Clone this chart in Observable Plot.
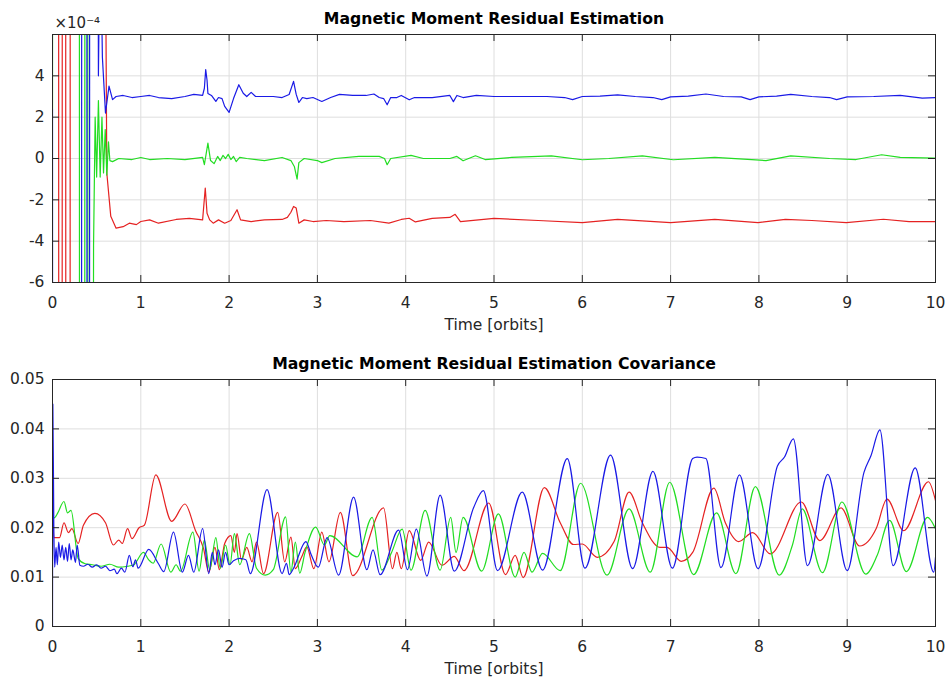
<!DOCTYPE html>
<html><head><meta charset="utf-8">
<script src="https://cdn.jsdelivr.net/npm/d3@7"></script>
<script src="https://cdn.jsdelivr.net/npm/@observablehq/plot@0.6"></script>
<style>
body{margin:0;background:#fff;}
#wrap{position:relative;width:946px;height:681px;background:#fff;}
#top,#bottom{position:absolute;left:0;}
#top{top:0;}
#bottom{top:345px;}
</style></head><body>
<div id="wrap"><div id="top"></div><div id="bottom"></div></div>
<script>
// ---------- tick labels / text ----------
const xTicks = [0,1,2,3,4,5,6,7,8,9,10];
const topYTicks = [-6,-4,-2,0,2,4];
const botYTicks = [0,0.01,0.02,0.03,0.04,0.05];
const topTitle = "Magnetic Moment Residual Estimation";
const botTitle = "Magnetic Moment Residual Estimation Covariance";
const xLabel = "Time [orbits]";
const expLabel = "×10⁻⁴";

// ---------- top panel series: [time (orbits), value (×1e-4)] ----------
const topRed = [[0,40],[0.068,40],[0.072,-40],[0.108,-40],[0.112,40],[0.148,40],[0.152,-40],[0.198,-40],[0.202,40],
 [0.56,40],[0.615,-0.7],[0.66,-2.8],[0.72,-3.37],[0.8,-3.3],[0.87,-3.13],[0.95,-3.2],[1.0,-3.05],[1.1,-2.97],[1.2,-3.13],
 [1.4,-2.95],[1.55,-2.9],[1.7,-2.97],[1.73,-1.43],[1.75,-2.65],[1.78,-2.97],[1.82,-3.13],[1.88,-2.97],[1.95,-3.13],
 [2.02,-3.0],[2.09,-2.48],[2.13,-2.97],[2.25,-3.05],[2.4,-2.97],[2.6,-2.95],[2.66,-2.85],[2.7,-2.6],[2.73,-2.32],
 [2.76,-2.4],[2.79,-3.13],[2.85,-2.97],[2.95,-3.05],[3.1,-3.0],[3.3,-3.05],[3.6,-3.0],[3.81,-3.13],[3.95,-2.95],
 [4.04,-2.89],[4.11,-3.07],[4.3,-2.9],[4.5,-2.85],[4.56,-2.7],[4.62,-3.05],[5.0,-2.9],[5.5,-3.0],[6.0,-3.1],[6.4,-2.95],
 [7.0,-3.1],[7.5,-2.95],[7.99,-3.1],[8.3,-2.95],[8.6,-3.0],[8.99,-3.1],[9.41,-2.94],[9.7,-3.05],[10,-3.05]];
const topGreen = [[0,2.4],[0.002,40],[0.303,40],[0.307,-40],[0.364,-40],[0.368,40],[0.398,40],[0.402,-40],[0.452,-40],
 [0.465,-4.2],[0.483,2.0],[0.5,-0.9],[0.52,2.8],[0.54,-0.9],[0.56,2.0],[0.578,-0.7],[0.597,1.4],[0.615,-0.8],[0.634,0.8],
 [0.65,-0.1],[0.68,-0.15],[0.75,0.0],[0.9,-0.05],[1.0,0.05],[1.1,-0.05],[1.3,0.0],[1.5,-0.05],[1.7,0.05],[1.72,-0.3],
 [1.76,0.74],[1.79,-0.1],[1.83,-0.25],[1.87,0.1],[1.9,-0.1],[1.93,0.15],[1.96,0.0],[1.99,0.2],[2.02,-0.05],[2.05,0.1],
 [2.08,-0.15],[2.12,0.05],[2.2,0.0],[2.4,-0.1],[2.6,0.05],[2.7,-0.1],[2.74,-0.4],[2.77,-1.0],[2.79,-0.2],[2.85,0.0],
 [3.0,-0.1],[3.05,-0.2],[3.2,0.0],[3.47,0.1],[3.7,0.1],[3.76,0.0],[3.79,-0.3],[3.83,0.0],[4.06,0.15],[4.2,0.0],[4.5,0.0],
 [4.58,0.1],[4.65,-0.11],[4.79,0.13],[4.9,-0.05],[5.2,0.05],[5.65,0.13],[6.0,-0.06],[6.3,0.0],[6.68,0.13],[7.03,-0.06],
 [7.5,0.05],[8.08,-0.1],[8.36,0.13],[8.8,0.0],[9.1,-0.05],[9.39,0.18],[9.6,0.05],[10,0.02]];
const topBlue = [[0,2.4],[0.002,-40],[0.328,-40],[0.332,40],[0.388,40],[0.392,-40],[0.418,-40],[0.422,40],[0.505,40],
 [0.52,4.0],[0.54,12],[0.565,4.9],[0.6,2.2],[0.64,3.5],[0.68,2.85],[0.72,3.0],[0.8,3.05],[0.9,2.95],[1.0,3.0],[1.1,3.05],
 [1.2,2.95],[1.35,2.9],[1.5,3.0],[1.6,3.1],[1.7,3.05],[1.72,3.4],[1.735,4.3],[1.75,3.8],[1.76,3.15],[1.8,3.05],[1.85,2.76],
 [1.88,2.95],[1.92,2.9],[1.95,2.52],[2.0,2.23],[2.05,2.9],[2.11,3.57],[2.16,3.16],[2.2,3.0],[2.25,3.2],[2.3,3.0],[2.4,3.0],
 [2.5,3.0],[2.6,2.95],[2.68,3.1],[2.73,3.73],[2.76,3.1],[2.79,2.71],[2.83,2.95],[2.88,2.9],[2.95,2.95],[3.05,2.76],
 [3.15,2.95],[3.25,3.1],[3.4,3.05],[3.55,3.05],[3.64,3.12],[3.7,2.95],[3.75,2.9],[3.79,2.6],[3.83,2.95],[3.9,2.95],
 [3.95,3.05],[4.04,2.84],[4.1,2.95],[4.3,2.95],[4.5,3.05],[4.54,2.75],[4.58,3.05],[4.65,2.95],[4.8,3.05],[5.0,3.0],
 [5.3,3.0],[5.6,3.0],[5.8,2.95],[5.89,2.85],[6.0,3.0],[6.2,3.02],[6.4,3.08],[6.6,3.0],[6.8,2.95],[6.9,2.85],[7.0,2.98],
 [7.2,3.02],[7.4,3.12],[7.6,3.0],[7.8,2.98],[7.9,2.85],[8.0,2.98],[8.2,3.02],[8.36,3.1],[8.6,3.0],[8.8,2.95],[8.88,2.85],
 [9.0,2.98],[9.3,3.0],[9.6,3.05],[9.85,2.92],[10,2.95]];

// ---------- bottom panel series: [time (orbits), covariance] ----------
const botRed = [[0,0.027],[0.015,0.018],[0.08,0.018],[0.13,0.021],[0.18,0.019],[0.22,0.0198],[0.29,0.0168],[0.35,0.0205],
 [0.48,0.0229],[0.6,0.021],[0.69,0.0165],[0.75,0.0175],[0.79,0.0168],[0.85,0.0198],[0.9,0.0178],[0.98,0.02],[1.04,0.0205],
 [1.17,0.0307],[1.35,0.0213],[1.5,0.0248],[1.62,0.0194],[1.71,0.0158],[1.77,0.011],[1.84,0.016],[1.89,0.0115],
 [1.95,0.0168],[2.02,0.0184],[2.06,0.015],[2.09,0.0188],[2.14,0.0135],[2.2,0.016],[2.26,0.0131],[2.31,0.0171],
 [2.39,0.0107],[2.55,0.0231],[2.63,0.0131],[2.7,0.0181],[2.75,0.0117],[2.82,0.014],[2.88,0.0161],[2.96,0.0117],
 [3.05,0.0191],[3.13,0.0131],[3.26,0.0231],[3.4,0.0103],[3.75,0.024],[3.85,0.0117],[3.9,0.015],[3.95,0.0117],
 [4.04,0.0194],[4.17,0.0134],[4.26,0.0171],[4.41,0.0124],[4.55,0.0142],[4.66,0.0113],[4.94,0.025],[5.13,0.0105],
 [5.24,0.0144],[5.33,0.0099],[5.57,0.0281],[5.75,0.021],[5.9,0.0166],[6.0,0.0167],[6.17,0.014],[6.36,0.0172],
 [6.53,0.0272],[6.68,0.021],[6.88,0.016],[6.96,0.016],[7.12,0.0132],[7.25,0.015],[7.49,0.028],[7.62,0.021],[7.77,0.0172],
 [7.93,0.019],[8.13,0.0147],[8.48,0.0252],[8.69,0.0174],[8.93,0.024],[9.14,0.0163],[9.33,0.0199],[9.45,0.0258],
 [9.64,0.0194],[9.92,0.0293],[10,0.0255]];
const botGreen = [[0,0.023],[0.02,0.022],[0.06,0.023],[0.13,0.0253],[0.17,0.023],[0.21,0.0235],[0.29,0.0138],[0.37,0.0127],
 [0.45,0.0125],[0.55,0.0122],[0.65,0.0126],[0.75,0.012],[0.85,0.0122],[0.92,0.0125],[1.03,0.015],[1.09,0.0135],
 [1.14,0.0128],[1.23,0.0167],[1.34,0.011],[1.4,0.0125],[1.45,0.0112],[1.59,0.0191],[1.66,0.0112],[1.72,0.0175],
 [1.78,0.0115],[1.85,0.018],[1.9,0.0118],[1.96,0.0165],[2.01,0.0125],[2.06,0.0188],[2.12,0.0125],[2.23,0.0188],
 [2.31,0.0118],[2.41,0.0104],[2.5,0.0115],[2.64,0.0222],[2.7,0.011],[2.75,0.0171],[2.8,0.0108],[2.86,0.015],
 [2.98,0.0201],[3.08,0.0165],[3.14,0.0184],[3.45,0.0141],[3.62,0.0221],[3.73,0.0114],[3.84,0.015],[3.96,0.0197],
 [4.06,0.0114],[4.22,0.0235],[4.39,0.0114],[4.51,0.0221],[4.57,0.015],[4.65,0.0221],[4.86,0.0112],[5.05,0.0228],
 [5.24,0.01],[5.34,0.015],[5.43,0.011],[5.55,0.0148],[5.75,0.0113],[5.98,0.029],[6.28,0.0104],[6.53,0.0238],[6.77,0.011],
 [6.99,0.0292],[7.26,0.0105],[7.52,0.023],[7.74,0.0107],[7.96,0.0283],[8.23,0.0104],[8.38,0.0165],[8.49,0.0238],
 [8.72,0.0109],[8.94,0.0252],[9.21,0.0106],[9.34,0.0144],[9.48,0.0215],[9.67,0.0111],[9.91,0.0221],[10,0.0198]];
const botBlue = [[0,0],[0.004,0.045],[0.015,0.02],[0.025,0.012],[0.04,0.016],[0.055,0.0125],[0.07,0.0171],[0.09,0.014],
 [0.11,0.0165],[0.13,0.0135],[0.15,0.016],[0.17,0.0132],[0.19,0.0168],[0.21,0.0135],[0.23,0.0155],[0.26,0.013],
 [0.28,0.0165],[0.31,0.0124],[0.35,0.0122],[0.4,0.0126],[0.45,0.012],[0.5,0.0125],[0.55,0.0118],[0.6,0.0122],
 [0.65,0.0113],[0.7,0.0116],[0.73,0.0107],[0.78,0.0118],[0.82,0.011],[0.87,0.0144],[0.91,0.0121],[0.94,0.0135],
 [0.97,0.0118],[1.09,0.0156],[1.2,0.0127],[1.26,0.0111],[1.37,0.0191],[1.47,0.011],[1.54,0.0144],[1.6,0.011],
 [1.7,0.0198],[1.77,0.0107],[1.81,0.015],[1.84,0.0125],[1.88,0.0155],[1.92,0.012],[1.96,0.015],[2.0,0.0125],
 [2.05,0.0133],[2.12,0.0138],[2.19,0.0135],[2.24,0.0107],[2.43,0.0277],[2.6,0.0107],[2.65,0.0128],[2.68,0.0105],
 [2.73,0.0118],[2.87,0.0172],[2.93,0.0145],[3.01,0.012],[3.11,0.018],[3.24,0.0104],[3.41,0.0262],[3.56,0.0115],
 [3.63,0.0155],[3.71,0.0105],[3.92,0.0195],[4.02,0.0115],[4.12,0.0197],[4.24,0.0102],[4.39,0.0266],[4.55,0.0112],
 [4.77,0.0241],[4.88,0.0275],[5.04,0.0113],[5.32,0.0272],[5.55,0.0114],[5.83,0.034],[6.03,0.0118],[6.32,0.0347],
 [6.57,0.0117],[6.8,0.0314],[7.02,0.0118],[7.25,0.034],[7.3,0.0343],[7.4,0.034],[7.57,0.0119],[7.78,0.0307],
 [7.99,0.0117],[8.21,0.0325],[8.29,0.0343],[8.39,0.038],[8.55,0.0123],[8.78,0.0308],[9.0,0.0113],[9.19,0.0312],
 [9.27,0.0346],[9.37,0.0398],[9.52,0.0123],[9.77,0.0321],[9.98,0.011],[10,0.014]];

const RED = "#e52222", GREEN = "#22dd22", BLUE = "#1a1ae6";
const INK = "#262626", GRID = "#dedede";

function panel({series, yDomain, yTicks, height, marginTop, marginBottom, title, curve, exponent}) {
  const W = 946, ML = 52, MR = 11;
  const fw = W - ML - MR, fh = height - marginTop - marginBottom, T = 7;
  const marks = [
    Plot.gridX(xTicks, {stroke: GRID, strokeOpacity: 1}),
    Plot.gridY(yTicks, {stroke: GRID, strokeOpacity: 1}),
    ...series.map(s => Plot.line(s.data, {x: d => d[0], y: d => d[1], stroke: s.color, strokeWidth: 1.2, curve, clip: true})),
    Plot.tickX(xTicks, {x: d => d, insetTop: fh - T, stroke: INK}),
    Plot.tickX(xTicks, {x: d => d, insetBottom: fh - T, stroke: INK}),
    Plot.tickY(yTicks, {y: d => d, insetRight: fw - T, stroke: INK}),
    Plot.tickY(yTicks, {y: d => d, insetLeft: fw - T, stroke: INK}),
    Plot.frame({stroke: INK}),
    Plot.axisX(xTicks, {tickSize: 0, tickPadding: 14, tickFormat: d => String(d), label: null}),
    Plot.axisY(yTicks, {tickSize: 0, tickPadding: 8, tickFormat: d => String(d), label: null}),
    Plot.text([title], {text: d => d, frameAnchor: "top", lineAnchor: "middle", dy: -16, fontWeight: "bold", fontSize: 15.7, fill: "#000"}),
    Plot.text([xLabel], {text: d => d, frameAnchor: "bottom", lineAnchor: "middle", dy: 43, fill: INK})
  ];
  if (exponent) marks.push(Plot.text([exponent], {text: d => d, frameAnchor: "top-left", lineAnchor: "middle", textAnchor: "start", dx: 2, dy: -11, fontSize: 15, fill: INK}));
  return Plot.plot({
    width: W, height, marginLeft: ML, marginRight: MR, marginTop, marginBottom,
    x: {domain: [0, 10]}, y: {domain: yDomain},
    style: {fontFamily: "DejaVu Sans", fontSize: "15.5px", color: INK, background: "white"},
    marks
  });
}

document.getElementById("top").append(panel({
  series: [{data: topRed, color: RED}, {data: topGreen, color: GREEN}, {data: topBlue, color: BLUE}],
  yDomain: [-6, 6], yTicks: topYTicks, height: 345, marginTop: 34, marginBottom: 63,
  title: topTitle, curve: "linear", exponent: expLabel
}));
document.getElementById("bottom").append(panel({
  series: [{data: botRed, color: RED}, {data: botGreen, color: GREEN}, {data: botBlue, color: BLUE}],
  yDomain: [0, 0.05], yTicks: botYTicks, height: 336, marginTop: 34, marginBottom: 55,
  title: botTitle, curve: "monotone-x"
}));
</script>
</body></html>
